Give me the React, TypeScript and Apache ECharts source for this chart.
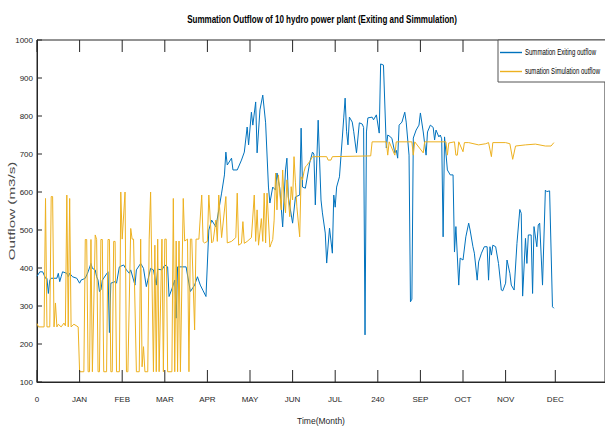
import React, { useEffect, useRef } from "react";
import * as echarts from "echarts";

const chartTitle = "Summation Outflow of 10 hydro power plant (Exiting and Simmulation)";
const xAxisTitle = "Time(Month)";
const yAxisTitle = "Outflow (m3/s)";
const seriesNames = ["Summation Exiting outflow", "sumation Simulation outflow"];
const seriesColors = ["#0072BD", "#EDB120"];

const tickDays = [0, 30, 60, 90, 120, 150, 180, 210, 240, 270, 300, 330, 365];
const tickLabels = ["0", "JAN", "FEB", "MAR", "APR", "MAY", "JUN", "JUL", "240", "SEP", "OCT", "NOV", "DEC"];
const yTickValues = [100, 200, 300, 400, 500, 600, 700, 800, 900, 1000];

const existingDays = [
  0, 2, 4, 6, 7, 8, 9, 10, 14, 15, 16, 17, 18, 21, 22, 23, 25, 28, 30, 31, 34, 36, 38, 39, 41, 42, 43, 44, 45, 46,
  50, 51, 52, 55, 56, 58, 61, 63, 65, 66, 69, 70, 73, 75, 77, 80, 82, 84, 85, 88, 90, 92, 93, 95, 97, 98, 99, 105,
  108, 111, 113, 115, 117, 119, 121, 123, 126, 130, 132, 133, 134, 137, 138, 141, 144, 146, 148, 149, 151, 152, 154,
  155, 157, 159, 161, 163, 164, 166, 168, 169, 171, 173, 175, 176, 177, 180, 182, 185, 186, 187, 189, 192, 194, 195,
  196, 198, 200, 201, 203, 204, 206, 208, 209, 210, 211, 213, 215, 216, 217, 218, 219, 220, 222, 223, 225, 227, 229,
  230, 231, 232, 233, 236, 237, 239, 241, 242, 244, 246, 247, 249, 250, 252, 253, 254, 255, 257, 259, 260, 262, 263,
  264, 265, 267, 269, 270, 272, 274, 275, 277, 279, 280, 281, 283, 284, 285, 286, 287, 289, 291, 293, 294, 295, 297,
  298, 300, 302, 304, 305, 307, 308, 310, 311, 313, 315, 317, 318, 319, 320, 321, 323, 325, 327, 328, 330, 331, 333,
  334, 336, 338, 340, 341, 342, 344, 345, 346, 348, 349, 350, 352, 353, 354, 356, 358, 359, 361, 363, 364,
];
const existingValues = [
  378, 390, 390, 373, 373, 333, 368, 373, 373, 386, 364, 377, 390, 386, 377, 386, 377, 373, 360, 368, 373, 390, 412,
  399, 395, 377, 368, 338, 342, 368, 390, 230, 360, 364, 360, 403, 408, 395, 386, 395, 355, 395, 412, 399, 351, 399,
  395, 355, 397, 395, 408, 403, 325, 345, 368, 268, 403, 403, 338, 355, 377, 355, 340, 325, 500, 526, 508, 597, 645,
  705, 671, 689, 658, 658, 684, 705, 771, 724, 810, 776, 837, 703, 816, 855, 782, 613, 571, 613, 605, 650, 610, 508,
  658, 689, 587, 518, 587, 592, 768, 613, 610, 676, 705, 700, 566, 789, 579, 545, 492, 413, 505, 439, 592, 560, 613,
  640, 742, 795, 847, 760, 724, 797, 784, 760, 703, 782, 779, 770, 224, 758, 795, 797, 790, 803, 755, 937, 934, 716,
  750, 745, 740, 703, 710, 689, 776, 784, 810, 784, 697, 311, 318, 742, 763, 776, 808, 758, 697, 758, 776, 770, 737,
  763, 745, 750, 740, 482, 745, 658, 645, 645, 442, 509, 355, 426, 421, 482, 518, 500, 456, 439, 368, 416, 439, 456,
  456, 368, 456, 434, 460, 456, 412, 342, 340, 360, 421, 386, 355, 342, 465, 554, 544, 326, 478, 412, 487, 487, 333,
  509, 456, 513, 518, 355, 605, 601, 603, 298, 294,
];

const simulationDays = [
  0, 1, 5, 6, 7, 9, 10, 11, 12, 13, 14, 15, 17, 19, 20, 21, 22, 23, 24, 26, 29, 30, 33, 34, 35, 36, 37, 38, 39, 41,
  42, 43, 44, 45, 46, 47, 49, 50, 51, 52, 53, 54, 55, 56, 58, 59, 60, 62, 63, 64, 66, 67, 68, 70, 72, 73, 74, 75, 76,
  78, 79, 80, 82, 83, 84, 85, 86, 88, 89, 90, 91, 92, 95, 96, 97, 98, 99, 100, 101, 103, 104, 106, 107, 108, 109, 111,
  112, 114, 116, 117, 118, 120, 121, 123, 124, 126, 127, 128, 130, 133, 134, 137, 140, 141, 142, 144, 145, 146, 148,
  151, 153, 154, 155, 156, 158, 159, 160, 161, 162, 164, 165, 166, 167, 168, 169, 170, 172, 173, 174, 175, 176, 178,
  179, 180, 181, 182, 183, 185, 186, 187, 188, 189, 190, 192, 193, 194, 204, 205, 207, 208, 235, 236, 246, 247, 248,
  252, 253, 264, 265, 266, 272, 273, 288, 289, 290, 294, 295, 296, 297, 300, 301, 304, 311, 316, 318, 320, 321, 330,
  333, 335, 337, 344, 351, 358, 362, 364,
];
const simulationValues = [
  254, 245, 245, 583, 245, 245, 588, 588, 245, 308, 245, 252, 245, 255, 248, 592, 245, 583, 245, 252, 245, 127, 127,
  475, 475, 127, 127, 475, 127, 487, 475, 127, 127, 475, 475, 127, 127, 475, 475, 127, 127, 470, 470, 127, 127, 600,
  476, 600, 127, 127, 504, 476, 476, 127, 127, 476, 140, 193, 127, 127, 476, 600, 127, 460, 127, 476, 127, 476, 127,
  476, 476, 127, 127, 583, 127, 471, 127, 471, 127, 583, 471, 476, 127, 476, 476, 237, 476, 476, 592, 469, 466, 470,
  592, 466, 470, 526, 470, 592, 480, 588, 466, 470, 480, 597, 460, 465, 522, 465, 470, 480, 592, 470, 553, 460, 530,
  470, 597, 466, 597, 455, 465, 475, 526, 650, 553, 645, 553, 658, 579, 545, 632, 535, 614, 579, 693, 624, 561, 482,
  640, 632, 653, 666, 670, 680, 686, 693, 693, 684, 684, 693, 695, 732, 732, 697, 732, 697, 732, 732, 697, 732, 703,
  732, 732, 697, 729, 732, 697, 697, 732, 706, 730, 730, 724, 727, 730, 693, 730, 730, 727, 686, 721, 724, 726, 721,
  721, 730,
];

const X_MIN = 0;
const X_MAX = 400;
const Y_MIN = 100;
const Y_MAX = 1000;

const font = "'Liberation Sans', Arial, sans-serif";
const axisColor = "#262626";

export default function App() {
  const ref = useRef<HTMLDivElement>(null);

  useEffect(() => {
    if (!ref.current) return;
    const chart = echarts.init(ref.current, null, { renderer: "svg" });

    const existingData = existingDays.map((d, i) => [d, existingValues[i]]);
    const simulationData = simulationDays.map((d, i) => [d, simulationValues[i]]);
    const lineStyle = { stroke: axisColor, lineWidth: 1 };

    const legendText = (text: string, y: number) => ({
      type: "text",
      z: 102,
      x: 525,
      y,
      scaleX: 0.71,
      style: {
        text,
        fontSize: 8.5,
        fontFamily: font,
        fill: "#000",
        align: "left",
        verticalAlign: "middle",
        textAlign: "left",
        textVerticalAlign: "middle",
      },
    });
    const legendSample = (color: string, y: number) => ({
      type: "rect",
      z: 101,
      shape: { x: 500, y: y - 0.7, width: 22, height: 1.4 },
      style: { fill: color, stroke: "none" },
    });

    chart.setOption({
      animation: false,
      backgroundColor: "#ffffff",
      grid: {
        left: 37,
        top: 40,
        width: 570,
        height: 342,
        show: true,
        borderColor: axisColor,
        borderWidth: 1,
        backgroundColor: "transparent",
      },
      graphic: [
        {
          type: "text",
          x: 322,
          y: 19,
          scaleX: 0.73,
          style: {
            text: chartTitle,
            fontSize: 11,
            fontWeight: "bold",
            fontFamily: font,
            fill: "#000",
            align: "center",
            verticalAlign: "middle",
            textAlign: "center",
            textVerticalAlign: "middle",
          },
        },
        {
          type: "text",
          x: 12,
          y: 211,
          rotation: Math.PI / 2,
          scaleX: 1.6,
          style: {
            text: yAxisTitle,
            fontSize: 9.5,
            fontFamily: font,
            fill: "#4a4a4a",
            align: "center",
            verticalAlign: "middle",
            textAlign: "center",
            textVerticalAlign: "middle",
          },
        },
        {
          type: "rect",
          z: 100,
          shape: { x: 498, y: 40, width: 120, height: 42 },
          style: { fill: "#ffffff", stroke: "#555555", lineWidth: 1 },
        },
        legendSample(seriesColors[0], 52.5),
        legendText(seriesNames[0], 52.5),
        legendSample(seriesColors[1], 71.5),
        legendText(seriesNames[1], 71.5),
      ],
      xAxis: {
        type: "value",
        min: X_MIN,
        max: X_MAX,
        position: "bottom",
        axisLine: { show: true, onZero: false, lineStyle: { color: axisColor, width: 1 } },
        axisTick: { show: false },
        splitLine: { show: false },
        axisLabel: {
          customValues: tickDays,
          formatter: (v: number) => {
            const i = tickDays.indexOf(v);
            return i >= 0 ? tickLabels[i] : "";
          },
          fontSize: 8,
          color: axisColor,
          fontFamily: font,
          margin: 13,
        },
        name: xAxisTitle,
        nameLocation: "middle",
        nameGap: 34,
        nameTextStyle: { fontSize: 8.5, color: axisColor, fontFamily: font },
      },
      yAxis: {
        type: "value",
        min: Y_MIN,
        max: Y_MAX,
        interval: 100,
        axisLine: { show: true, onZero: false, lineStyle: { color: axisColor, width: 1 } },
        axisTick: { show: false },
        axisLabel: {
          fontSize: 8,
          color: axisColor,
          fontFamily: font,
          margin: 4,
          formatter: (v: number) => String(v),
        },
        splitLine: { show: false },
      },
      series: [
        {
          type: "line",
          name: seriesNames[0],
          data: existingData,
          symbol: "none",
          z: 2,
          lineStyle: { color: seriesColors[0], width: 1 },
          itemStyle: { color: seriesColors[0] },
        },
        {
          type: "line",
          name: seriesNames[1],
          data: simulationData,
          symbol: "none",
          z: 3,
          lineStyle: { color: seriesColors[1], width: 1 },
          itemStyle: { color: seriesColors[1] },
        },
        {
          type: "custom",
          name: "xTicks",
          silent: true,
          clip: false,
          z: 5,
          data: tickDays.map((d) => [d, Y_MIN]),
          renderItem: (_params: any, api: any) => {
            const d = api.value(0);
            const b = api.coord([d, Y_MIN]);
            const t = api.coord([d, Y_MAX]);
            return {
              type: "group",
              children: [
                { type: "line", shape: { x1: b[0], y1: b[1], x2: b[0], y2: b[1] - 12 }, style: lineStyle },
                { type: "line", shape: { x1: t[0], y1: t[1], x2: t[0], y2: t[1] + 12 }, style: lineStyle },
              ],
            };
          },
        },
        {
          type: "custom",
          name: "yTicks",
          silent: true,
          clip: false,
          z: 5,
          data: yTickValues.map((v) => [X_MIN, v]),
          renderItem: (_params: any, api: any) => {
            const v = api.value(1);
            const p = api.coord([X_MIN, v]);
            return {
              type: "line",
              shape: { x1: p[0], y1: p[1], x2: p[0] + 5, y2: p[1] },
              style: lineStyle,
            };
          },
        },
      ],
    });

    return () => chart.dispose();
  }, []);

  return <div ref={ref} style={{ position: "fixed", left: 0, top: 0, width: 605, height: 430 }} />;
}
